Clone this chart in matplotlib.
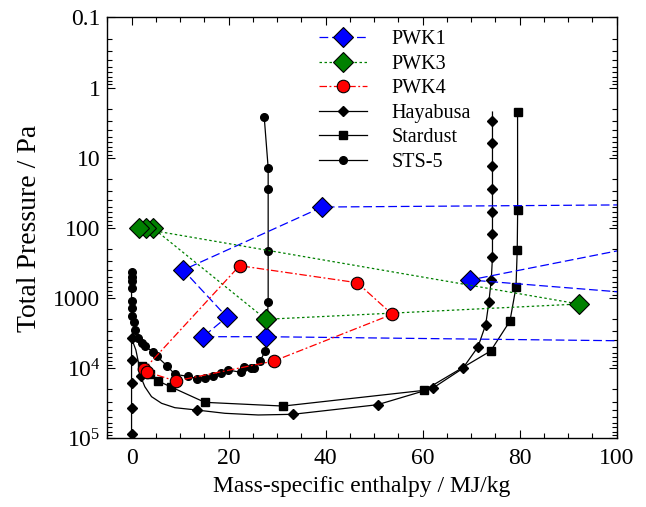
import matplotlib
matplotlib.use('Agg')
import matplotlib.pyplot as plt
import numpy as np
from matplotlib.ticker import FixedLocator, LogLocator, NullFormatter, MultipleLocator

plt.rcParams['font.family'] = 'Liberation Serif'
plt.rcParams['mathtext.fontset'] = 'custom'
plt.rcParams['mathtext.rm'] = 'Liberation Serif'

# --- data: enthalpy [MJ/kg], total pressure [Pa] ---
# PWK1 (points beyond x=100 are off the plot, only their lines show)
pwk1_h = [120, 39.3, 10.64, 19.65, 14.76, 27.69, 130, 130, 69.75, 130]
pwk1_p = [46, 50.4, 398, 1866, 3560, 3560, 4290, 83, 553, 1190]

pwk3_h = [27.69, 4.45, 2.89, 1.57, 92.23, 27.69]
pwk3_p = [2010, 101, 101, 101, 1217, 2010]

pwk4_h = [2.6, 22.27, 46.52, 53.73, 29.34, 9.07, 3.09]
pwk4_p = [10380, 346, 605, 1706, 7910, 15250, 11240]

hayabusa_h = [74.4, 74.4, 74.4, 74.4, 74.4, 74.4, 74.4, 74.4, 74.15, 73.65, 73.0,
              71.4, 68.25, 62.05, 50.7, 33.2, 26.1, 19.24, 13.4, 8.93, 6.19, 4.12,
              2.74, 1.86, 1.4, 0.89, 0, 0, 0, 0, 0]
hayabusa_p = [2.23, 2.99, 6.26, 13.1, 27.9, 58.4, 124, 260, 545, 1151, 2400,
              4990, 10110, 19370, 33200, 45500, 46500, 44000, 39500, 36600, 31700, 25500,
              18400, 13060, 8170, 5510, 3750, 7650, 16440, 37400, 86900]
hayabusa_marked = [1, 2, 3, 4, 5, 6, 7, 8, 9, 10, 11, 12, 13, 14, 15, 18, 23,
                   26, 27, 28, 29, 30]

stardust_h = [79.57, 79.59, 79.5, 79.24, 78.0, 74.02, 60.33, 31.26, 15.11, 8.04,
              5.48, 3.77, 2.12]
stardust_p = [2.25, 56.1, 209, 703, 2130, 5690, 20700, 34700, 30700, 18400,
              15250, 11920, 9410]

sts5_h = [27.34, 28.16, 28.16, 28.16, 28.16, 27.84, 27.55, 26.56, 25.2, 24.6,
          23.15, 22.47, 19.96, 18.41, 16.82, 15.11, 13.57, 11.55, 8.93, 7.28,
          5.15, 4.39, 2.74, 2.06, 1.4, 0.78, 0.41, 0, 0, 0, 0, 0, 0, 0]
sts5_p = [2.60, 13.9, 28.2, 214, 1128, 3560, 5640, 7830, 9860, 10050,
          9530, 11460, 10620, 11610, 12820, 13590, 14060, 13060, 12240, 9230,
          6710, 5890, 4790, 4420, 3750, 2860, 2200, 1800, 1400, 1090, 713, 572, 497, 421]

fig = plt.figure(figsize=(6.46, 5.07), dpi=100)
ax = fig.add_axes([0.1661, 0.1355, 0.7885, 0.83])

ax.plot(hayabusa_h, hayabusa_p, color='black', lw=0.9, marker='D', ms=5.5,
        markevery=hayabusa_marked, label='Hayabusa', zorder=3)
ax.plot(stardust_h, stardust_p, color='black', lw=0.9, marker='s', ms=5.5,
        label='Stardust', zorder=3)
ax.plot(sts5_h, sts5_p, color='black', lw=0.9, marker='o', ms=5.5,
        label='STS-5', zorder=3)

ax.plot(pwk1_h, pwk1_p, color='blue', lw=0.9, ls=(0, (7, 3)), marker='D', ms=10,
        mfc='blue', mec='black', mew=0.8, label='PWK1', zorder=4)
ax.plot(pwk3_h, pwk3_p, color='green', lw=0.9, ls=(0, (2, 2)), marker='D', ms=10,
        mfc='green', mec='black', mew=0.8, label='PWK3', zorder=4)
ax.plot(pwk4_h, pwk4_p, color='red', lw=0.9, ls=(0, (6, 2, 1.5, 2)), marker='o', ms=9,
        mfc='red', mec='black', mew=0.8, label='PWK4', zorder=4)

ax.set_yscale('log')
ax.set_xlim(-5, 100)
ax.set_ylim(1e5, 0.1)

ax.yaxis.set_major_locator(FixedLocator([0.1, 1, 10, 100, 1000, 1e4, 1e5]))
ax.set_yticklabels(['0.1', '1', '10', '100', '1000',
                    r'$\mathregular{10^4}$', r'$\mathregular{10^5}$'])
ax.yaxis.set_minor_locator(LogLocator(base=10, subs=np.arange(2, 10), numticks=20))
ax.yaxis.set_minor_formatter(NullFormatter())
ax.xaxis.set_major_locator(MultipleLocator(20))
ax.xaxis.set_minor_locator(MultipleLocator(5))

ax.tick_params(which='both', direction='in', top=True, right=True, labelsize=17)
ax.tick_params(which='major', length=6, width=0.8)
ax.tick_params(which='minor', length=3.5, width=0.8)
ax.tick_params(axis='x', pad=7)
ax.tick_params(axis='y', pad=5)
for s in ax.spines.values():
    s.set_linewidth(1.0)

ax.set_xlabel('Mass-specific enthalpy / MJ/kg', fontsize=17, labelpad=5)
ax.set_ylabel('Total Pressure / Pa', fontsize=20, labelpad=8)

h, l = ax.get_legend_handles_labels()
order = [3, 4, 5, 0, 1, 2]
ax.legend([h[i] for i in order], [l[i] for i in order], loc='upper left',
          bbox_to_anchor=(0.415, 0.97), frameon=False, fontsize=14.5,
          handlelength=2.4, handletextpad=1.2, labelspacing=0.27,
          borderpad=0, borderaxespad=0)

fig.savefig('out.png', dpi=100)
